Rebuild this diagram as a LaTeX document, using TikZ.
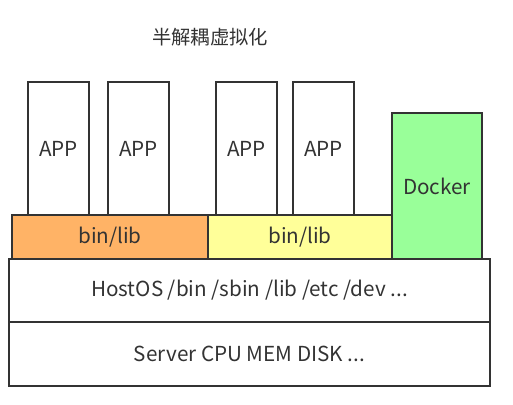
\documentclass[tikz,border=0pt]{standalone}
\usepackage{fontspec}
\setmainfont{Noto Sans CJK SC}
\definecolor{txt}{HTML}{333333}
\definecolor{orangefill}{HTML}{FFB366}
\definecolor{yellowfill}{HTML}{FFFF99}
\definecolor{greenfill}{HTML}{99FF99}
\begin{document}
\begin{tikzpicture}[x=0.75pt,y=-0.75pt,
  box/.style={draw=txt,line width=1.4pt,text=txt,font=\fontsize{15.5}{18}\selectfont},
]
\useasboundingbox (0,0) rectangle (513,404);
\node[text=txt,font=\fontsize{14.5}{16}\selectfont] (title) at (210,37) {半解耦虚拟化};
% apps
\path[box] (28,82) rectangle (89,215) node[midway] (app1) {APP};
\path[box] (108,82) rectangle (169,215) node[midway] (app2) {APP};
\path[box] (216,82) rectangle (277,215) node[midway] (app3) {APP};
\path[box] (293,82) rectangle (354,215) node[midway] (app4) {APP};
% libs
\path[box,fill=orangefill] (12,215) rectangle (208,259) node[midway] (lib1) {bin/lib};
\path[box,fill=yellowfill] (208,215) rectangle (392,259) node[midway] (lib2) {bin/lib};
\path[box,fill=greenfill] (392,113) rectangle (482,259) node[midway] (docker) {Docker};
% host
\path[box] (9,259) rectangle (490,322) node[midway] (host) {HostOS /bin /sbin /lib /etc /dev ...};
\path[box] (9,322) rectangle (490,386) node[midway] (server) {Server CPU MEM DISK ...};
\end{tikzpicture}
\end{document}
